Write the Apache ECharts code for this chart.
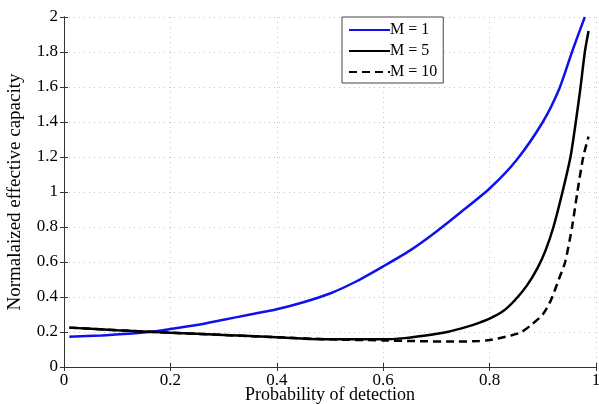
<!DOCTYPE html>
<html>
<head>
<meta charset="utf-8">
<script src="https://cdn.jsdelivr.net/npm/echarts@6/dist/echarts.min.js"></script>
<style>html,body{margin:0;padding:0;background:#fff}#c{width:599px;height:404px}</style>
</head>
<body>
<div id="c"></div>
<script>
var xTicks = [0, 0.2, 0.4, 0.6, 0.8, 1];
var yTicks = [0, 0.2, 0.4, 0.6, 0.8, 1, 1.2, 1.4, 1.6, 1.8, 2];

var m1X = [0.01, 0.07, 0.12, 0.16, 0.2, 0.25, 0.3, 0.35, 0.4, 0.45, 0.5, 0.55, 0.6, 0.65, 0.694, 0.744, 0.8, 0.85, 0.9, 0.931, 0.956, 0.979];
var m1Y = [0.173, 0.18, 0.19, 0.2, 0.217, 0.24, 0.27, 0.30, 0.33, 0.37, 0.42, 0.49, 0.575, 0.665, 0.76, 0.88, 1.02, 1.18, 1.40, 1.59, 1.81, 2.0];

var m5X = [0.01, 0.1, 0.2, 0.3, 0.4, 0.5, 0.6, 0.64, 0.68, 0.72, 0.76, 0.78, 0.8, 0.825, 0.847, 0.87, 0.89, 0.905, 0.92, 0.937, 0.952, 0.962, 0.971, 0.979, 0.986];
var m5Y = [0.225, 0.21, 0.196, 0.183, 0.17, 0.158, 0.158, 0.165, 0.18, 0.2, 0.232, 0.252, 0.276, 0.318, 0.38, 0.465, 0.565, 0.665, 0.8, 1.0, 1.2, 1.4, 1.6, 1.8, 1.92];

var m10X = [0.01, 0.1, 0.2, 0.3, 0.4, 0.5, 0.6, 0.66, 0.74, 0.78, 0.8, 0.84, 0.86, 0.88, 0.9, 0.915, 0.93, 0.942, 0.955, 0.965, 0.976, 0.986];
var m10Y = [0.225, 0.21, 0.196, 0.183, 0.17, 0.158, 0.152, 0.148, 0.145, 0.148, 0.154, 0.18, 0.2, 0.245, 0.3, 0.38, 0.5, 0.6, 0.8, 1.0, 1.2, 1.316];

var names = ['M = 1', 'M = 5', 'M = 10'];

function pairs(xs, ys) { return xs.map(function (x, i) { return [x, ys[i]]; }); }

var font = 'Liberation Serif';
var chart = echarts.init(document.getElementById('c'), null, {renderer: 'canvas'});

var baseAxisLine = {show: true, lineStyle: {color: '#333', width: 1}};
var tickIn = {show: true, inside: true, length: 4, lineStyle: {color: '#333'}};

chart.setOption({
  animation: false,
  backgroundColor: '#fff',
  grid: {left: 64, right: 3, top: 17, bottom: 37, containLabel: false, outerBoundsMode: 'none'},
  legend: {
    orient: 'vertical',
    left: 342, top: 17,
    width: 101,
    padding: [5, 6, 3, 6],
    backgroundColor: '#fff',
    borderColor: '#444', borderWidth: 1,
    itemWidth: 41, itemHeight: 10, itemGap: 5,
    itemStyle: {opacity: 0},
    textStyle: {fontFamily: font, fontSize: 16, color: '#000', lineHeight: 16, padding: [0, 0, 0, -5]},
    data: names
  },
  xAxis: [{
    type: 'value', min: 0, max: 1, interval: 0.2,
    name: 'Probability of detection', nameLocation: 'middle', nameGap: 19, nameMoveOverlap: false,
    nameTextStyle: {fontFamily: font, fontSize: 18, color: '#000', verticalAlign: 'top'},
    axisLine: baseAxisLine, axisTick: tickIn,
    axisLabel: {fontFamily: font, fontSize: 17, color: '#000', margin: 5,
      formatter: function (v) { return xTicks.indexOf(v) >= 0 ? String(v) : ''; }},
    splitLine: {show: true, lineStyle: {color: '#c4c4c4', type: [1, 4], width: 1}}
  }, {
    type: 'value', min: 0, max: 1, interval: 0.2, position: 'top',
    axisLine: baseAxisLine, axisTick: tickIn, axisLabel: {show: false}, splitLine: {show: false}
  }],
  yAxis: [{
    type: 'value', min: 0, max: 2, interval: 0.2,
    name: 'Normalaized effective capacity', nameLocation: 'middle', nameGap: 39,
    nameTextStyle: {fontFamily: font, fontSize: 19, color: '#000'},
    axisLine: baseAxisLine, axisTick: tickIn,
    axisLabel: {fontFamily: font, fontSize: 17, color: '#000', margin: 6,
      formatter: function (v) { return String(Math.round(v * 10) / 10); }},
    splitLine: {show: true, lineStyle: {color: '#c4c4c4', type: [1, 4], width: 1}}
  }, {
    type: 'value', min: 0, max: 2, interval: 0.2, position: 'right',
    axisLine: baseAxisLine, axisTick: tickIn, axisLabel: {show: false}, splitLine: {show: false}
  }],
  series: [{
    name: names[0], type: 'line', data: pairs(m1X, m1Y), showSymbol: false, symbol: 'none',
    smooth: 0.25, clip: true,
    lineStyle: {color: '#1010ee', width: 2.5}, itemStyle: {color: '#1010ee'}
  }, {
    name: names[1], type: 'line', data: pairs(m5X, m5Y), showSymbol: false, symbol: 'none',
    smooth: 0.25, clip: true,
    lineStyle: {color: '#000', width: 2.5}, itemStyle: {color: '#000'}
  }, {
    name: names[2], type: 'line', data: pairs(m10X, m10Y), showSymbol: false, symbol: 'none',
    smooth: 0.25, clip: true,
    lineStyle: {color: '#000', width: 2.5, type: [8, 5]}, itemStyle: {color: '#000'}
  }]
});
</script>
</body>
</html>
